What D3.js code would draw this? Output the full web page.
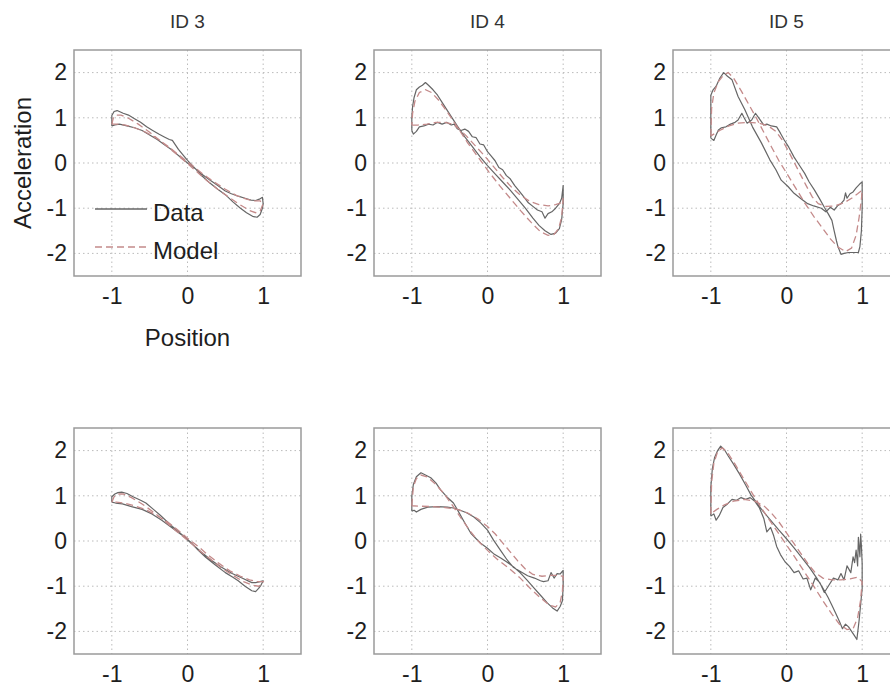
<!DOCTYPE html>
<html>
<head>
<meta charset="utf-8">
<script src="https://cdn.jsdelivr.net/npm/d3@7"></script>
<style>
  body { margin: 0; background: #fff; }
  svg { display: block; font-family: "Liberation Sans", Arial, sans-serif; }
</style>
</head>
<body>
<div id="chart"></div>
<script>
// Tick values shared by every panel
const xTicks = [-1, 0, 1];
const yTicks = [-2, -1, 0, 1, 2];
const titles = ["ID 3", "ID 4", "ID 5"];

// Top row: [position, acceleration] loops
const id3TopData = [[-1,0.82],[-1,1.05],[-0.97,1.14],[-0.93,1.16],[-0.85,1.1],[-0.78,1.06],[-0.7,0.98],[-0.62,0.9],[-0.54,0.8],[-0.46,0.72],[-0.38,0.64],[-0.3,0.57],[-0.24,0.52],[-0.2,0.5],[-0.16,0.4],[-0.12,0.3],[-0.06,0.18],[0,0.06],[0.1,-0.12],[0.2,-0.3],[0.3,-0.45],[0.4,-0.58],[0.5,-0.7],[0.6,-0.86],[0.7,-1.0],[0.78,-1.1],[0.86,-1.18],[0.92,-1.2],[0.96,-1.14],[0.99,-1.0],[1,-0.9],[0.99,-0.76],[0.95,-0.8],[0.9,-0.83],[0.84,-0.82],[0.76,-0.78],[0.68,-0.74],[0.58,-0.68],[0.5,-0.62],[0.4,-0.5],[0.3,-0.38],[0.2,-0.26],[0.1,-0.12],[0,0],[-0.1,0.14],[-0.2,0.28],[-0.3,0.4],[-0.4,0.52],[-0.5,0.62],[-0.6,0.72],[-0.7,0.78],[-0.8,0.82],[-0.9,0.86],[-0.96,0.84],[-1,0.82]];
const id3TopModel = [[-1,0.86],[-0.98,1.0],[-0.94,1.06],[-0.88,1.06],[-0.78,0.99],[-0.65,0.86],[-0.5,0.68],[-0.35,0.48],[-0.2,0.27],[-0.05,0.06],[0.1,-0.16],[0.25,-0.38],[0.4,-0.58],[0.55,-0.76],[0.7,-0.93],[0.82,-1.05],[0.9,-1.1],[0.96,-1.06],[1,-0.9],[0.96,-0.84],[0.88,-0.84],[0.78,-0.8],[0.65,-0.72],[0.5,-0.58],[0.35,-0.42],[0.2,-0.24],[0.05,-0.04],[-0.1,0.16],[-0.25,0.36],[-0.4,0.54],[-0.55,0.68],[-0.7,0.78],[-0.82,0.84],[-0.92,0.86],[-1,0.86]];

const id4TopData = [[-1,0.72],[-0.98,0.64],[-0.94,0.7],[-0.9,0.8],[-0.84,0.82],[-0.78,0.86],[-0.72,0.84],[-0.66,0.9],[-0.6,0.86],[-0.54,0.9],[-0.48,0.84],[-0.44,0.86],[-0.4,0.76],[-0.35,0.72],[-0.3,0.75],[-0.25,0.7],[-0.2,0.58],[-0.15,0.56],[-0.1,0.42],[-0.05,0.4],[0,0.25],[0.05,0.15],[0.1,0.05],[0.15,-0.1],[0.2,-0.15],[0.25,-0.28],[0.3,-0.35],[0.36,-0.5],[0.42,-0.62],[0.48,-0.75],[0.54,-0.88],[0.6,-0.96],[0.66,-1.04],[0.72,-1.08],[0.76,-1.22],[0.8,-1.12],[0.85,-1.08],[0.9,-1.0],[0.95,-0.9],[0.98,-0.78],[1,-0.5],[1,-0.9],[0.98,-1.25],[0.95,-1.45],[0.9,-1.55],[0.84,-1.58],[0.76,-1.5],[0.68,-1.38],[0.6,-1.22],[0.5,-1.0],[0.4,-0.8],[0.3,-0.6],[0.2,-0.42],[0.1,-0.24],[0,-0.06],[-0.1,0.14],[-0.2,0.36],[-0.3,0.58],[-0.4,0.82],[-0.5,1.08],[-0.6,1.34],[-0.66,1.5],[-0.72,1.62],[-0.78,1.72],[-0.82,1.78],[-0.86,1.72],[-0.9,1.68],[-0.94,1.62],[-0.97,1.45],[-0.99,1.25],[-1,1.0],[-1,0.72]];
const id4TopModel = [[-1,0.84],[-0.92,0.84],[-0.8,0.86],[-0.68,0.9],[-0.56,0.9],[-0.46,0.86],[-0.38,0.76],[-0.28,0.6],[-0.16,0.38],[-0.04,0.16],[0.08,-0.08],[0.2,-0.32],[0.32,-0.54],[0.44,-0.72],[0.56,-0.85],[0.68,-0.92],[0.8,-0.95],[0.9,-0.92],[0.97,-0.88],[1,-0.78],[0.98,-1.2],[0.94,-1.45],[0.88,-1.58],[0.8,-1.6],[0.7,-1.52],[0.58,-1.32],[0.44,-1.06],[0.3,-0.78],[0.16,-0.5],[0.02,-0.2],[-0.12,0.12],[-0.26,0.44],[-0.4,0.8],[-0.52,1.1],[-0.64,1.38],[-0.74,1.56],[-0.82,1.62],[-0.9,1.56],[-0.96,1.36],[-0.99,1.1],[-1,0.84]];

const id5TopData = [[-1,0.55],[-1,1.0],[-1,1.5],[-0.97,1.62],[-0.93,1.7],[-0.88,1.88],[-0.83,2.0],[-0.78,1.92],[-0.72,1.84],[-0.64,1.47],[-0.55,1.18],[-0.45,0.8],[-0.33,0.44],[-0.22,0.07],[-0.14,-0.15],[-0.07,-0.38],[0.02,-0.52],[0.1,-0.67],[0.2,-0.8],[0.28,-0.9],[0.36,-0.95],[0.46,-1.0],[0.52,-1.08],[0.58,-0.98],[0.63,-1.04],[0.68,-0.94],[0.72,-0.9],[0.76,-0.82],[0.78,-0.66],[0.8,-0.78],[0.84,-0.68],[0.88,-0.64],[0.92,-0.55],[0.97,-0.46],[1,-0.42],[1,-1.0],[0.99,-1.5],[0.97,-1.85],[0.95,-1.98],[0.88,-1.98],[0.82,-1.98],[0.76,-2.0],[0.72,-2.02],[0.68,-1.85],[0.66,-1.72],[0.63,-1.5],[0.6,-1.27],[0.55,-1.12],[0.5,-0.98],[0.44,-0.8],[0.37,-0.6],[0.3,-0.42],[0.24,-0.23],[0.17,-0.05],[0.1,0.13],[0.03,0.35],[-0.03,0.51],[-0.08,0.66],[-0.13,0.8],[-0.2,0.82],[-0.26,0.86],[-0.3,0.84],[-0.36,0.98],[-0.41,1.1],[-0.46,0.95],[-0.52,0.88],[-0.56,1.0],[-0.59,1.1],[-0.64,0.95],[-0.68,0.9],[-0.74,0.86],[-0.8,0.8],[-0.86,0.78],[-0.9,0.73],[-0.93,0.62],[-0.96,0.5],[-1,0.55]];
const id5TopModel = [[-1,0.6],[-0.99,1.2],[-0.96,1.55],[-0.9,1.8],[-0.83,1.95],[-0.77,2.0],[-0.7,1.88],[-0.6,1.6],[-0.5,1.3],[-0.4,1.0],[-0.3,0.68],[-0.2,0.36],[-0.1,0.05],[0,-0.22],[0.12,-0.55],[0.24,-0.88],[0.36,-1.18],[0.48,-1.45],[0.58,-1.68],[0.68,-1.86],[0.78,-1.96],[0.86,-1.88],[0.92,-1.6],[0.96,-1.2],[0.99,-0.8],[1,-0.6],[0.94,-0.68],[0.86,-0.78],[0.76,-0.88],[0.64,-0.95],[0.52,-0.96],[0.42,-0.9],[0.34,-0.75],[0.26,-0.5],[0.18,-0.24],[0.1,0.02],[0.02,0.28],[-0.06,0.52],[-0.14,0.7],[-0.24,0.82],[-0.36,0.88],[-0.5,0.9],[-0.64,0.88],[-0.76,0.82],[-0.86,0.74],[-0.94,0.66],[-1,0.6]];

// Bottom row
const id3BotData = [[-1,0.86],[-1,0.98],[-0.96,1.04],[-0.92,1.07],[-0.87,1.08],[-0.8,1.05],[-0.72,0.98],[-0.62,0.9],[-0.55,0.84],[-0.45,0.7],[-0.36,0.57],[-0.29,0.46],[-0.2,0.32],[-0.1,0.18],[-0.03,0.08],[0.05,-0.04],[0.14,-0.2],[0.24,-0.36],[0.36,-0.52],[0.5,-0.7],[0.6,-0.8],[0.67,-0.88],[0.76,-1.0],[0.85,-1.1],[0.9,-1.12],[0.94,-1.05],[0.97,-0.98],[1,-0.88],[0.96,-0.9],[0.9,-0.92],[0.85,-0.92],[0.72,-0.82],[0.59,-0.72],[0.45,-0.58],[0.32,-0.43],[0.18,-0.24],[0.05,-0.05],[-0.08,0.14],[-0.21,0.3],[-0.34,0.46],[-0.47,0.6],[-0.6,0.7],[-0.74,0.76],[-0.86,0.82],[-0.95,0.84],[-1,0.86]];
const id3BotModel = [[-1,0.86],[-0.97,0.98],[-0.92,1.04],[-0.85,1.04],[-0.74,0.96],[-0.6,0.82],[-0.45,0.64],[-0.3,0.44],[-0.15,0.22],[0,0.02],[0.15,-0.2],[0.3,-0.4],[0.45,-0.6],[0.6,-0.76],[0.74,-0.9],[0.86,-0.98],[0.94,-1.0],[0.98,-0.96],[1,-0.9],[0.92,-0.9],[0.82,-0.86],[0.7,-0.78],[0.56,-0.66],[0.42,-0.5],[0.28,-0.32],[0.14,-0.12],[0,0.06],[-0.14,0.26],[-0.28,0.44],[-0.42,0.58],[-0.56,0.7],[-0.7,0.78],[-0.84,0.84],[-0.94,0.86],[-1,0.86]];

const id4BotData = [[-1,0.66],[-1,1.0],[-0.98,1.25],[-0.94,1.42],[-0.88,1.51],[-0.82,1.46],[-0.75,1.4],[-0.68,1.28],[-0.62,1.13],[-0.54,0.98],[-0.45,0.84],[-0.38,0.64],[-0.32,0.46],[-0.22,0.17],[-0.15,0.05],[-0.09,-0.05],[0,-0.16],[0.08,-0.28],[0.18,-0.38],[0.26,-0.47],[0.35,-0.58],[0.43,-0.7],[0.52,-0.86],[0.61,-1.03],[0.7,-1.2],[0.79,-1.37],[0.86,-1.48],[0.92,-1.55],[0.96,-1.45],[0.99,-1.32],[1,-1.0],[1,-0.65],[0.96,-0.73],[0.92,-0.72],[0.88,-0.82],[0.84,-0.7],[0.8,-0.88],[0.74,-0.9],[0.7,-0.88],[0.62,-0.82],[0.53,-0.77],[0.44,-0.68],[0.34,-0.58],[0.26,-0.42],[0.17,-0.2],[0.08,0.02],[0,0.24],[-0.09,0.4],[-0.18,0.53],[-0.27,0.62],[-0.36,0.68],[-0.45,0.73],[-0.53,0.75],[-0.66,0.76],[-0.79,0.75],[-0.88,0.7],[-0.94,0.64],[-0.97,0.68],[-1,0.66]];
const id4BotModel = [[-1,0.78],[-0.98,1.2],[-0.94,1.38],[-0.88,1.46],[-0.8,1.42],[-0.7,1.28],[-0.58,1.06],[-0.46,0.78],[-0.34,0.48],[-0.22,0.2],[-0.1,-0.04],[0.02,-0.24],[0.14,-0.42],[0.28,-0.6],[0.42,-0.8],[0.56,-1.04],[0.7,-1.26],[0.82,-1.42],[0.9,-1.46],[0.96,-1.36],[0.99,-1.12],[1,-0.78],[0.94,-0.76],[0.84,-0.76],[0.72,-0.78],[0.6,-0.74],[0.5,-0.62],[0.4,-0.44],[0.3,-0.24],[0.2,-0.04],[0.1,0.16],[0,0.32],[-0.12,0.48],[-0.26,0.62],[-0.4,0.7],[-0.56,0.74],[-0.72,0.76],[-0.88,0.77],[-1,0.78]];

const id5BotData = [[-1,0.55],[-1,1.2],[-0.98,1.6],[-0.95,1.85],[-0.91,2.0],[-0.87,2.1],[-0.82,2.02],[-0.77,1.88],[-0.7,1.7],[-0.62,1.48],[-0.54,1.24],[-0.47,1.02],[-0.4,0.86],[-0.32,0.68],[-0.22,0.48],[-0.1,0.24],[0,0.05],[0.1,-0.15],[0.2,-0.36],[0.3,-0.58],[0.4,-0.82],[0.48,-1.04],[0.55,-1.25],[0.6,-1.42],[0.65,-1.6],[0.7,-1.78],[0.74,-1.94],[0.78,-1.84],[0.82,-1.9],[0.86,-2.0],[0.9,-2.1],[0.93,-2.18],[0.96,-1.75],[0.98,-1.4],[1,-1.05],[1,-0.5],[0.99,-0.1],[0.98,0.15],[0.97,-0.35],[0.95,0.08],[0.94,-0.55],[0.92,-0.2],[0.9,-0.48],[0.88,-0.35],[0.85,-0.7],[0.8,-0.55],[0.76,-0.86],[0.72,-0.72],[0.68,-0.86],[0.62,-0.82],[0.56,-0.98],[0.5,-1.14],[0.44,-0.92],[0.38,-0.82],[0.32,-1.08],[0.27,-0.82],[0.22,-0.84],[0.16,-0.66],[0.1,-0.7],[0.04,-0.56],[-0.02,-0.46],[-0.08,-0.3],[-0.13,-0.12],[-0.17,0.12],[-0.21,0.3],[-0.26,0.2],[-0.3,0.5],[-0.36,0.74],[-0.42,0.88],[-0.48,0.96],[-0.54,0.92],[-0.6,0.96],[-0.66,0.9],[-0.72,0.92],[-0.78,0.82],[-0.84,0.74],[-0.89,0.56],[-0.93,0.46],[-0.96,0.6],[-1,0.55]];
const id5BotModel = [[-1,0.6],[-0.99,1.3],[-0.96,1.72],[-0.91,1.98],[-0.85,2.06],[-0.78,1.96],[-0.68,1.7],[-0.56,1.36],[-0.44,1.02],[-0.32,0.7],[-0.2,0.4],[-0.06,0.06],[0.08,-0.28],[0.22,-0.64],[0.36,-1.0],[0.48,-1.32],[0.6,-1.62],[0.7,-1.84],[0.8,-1.96],[0.88,-1.94],[0.94,-1.7],[0.98,-1.3],[1,-0.9],[0.94,-0.8],[0.84,-0.84],[0.72,-0.86],[0.6,-0.86],[0.48,-0.82],[0.38,-0.7],[0.3,-0.54],[0.2,-0.3],[0.1,-0.06],[0,0.18],[-0.1,0.42],[-0.2,0.62],[-0.3,0.78],[-0.42,0.88],[-0.56,0.92],[-0.7,0.88],[-0.82,0.8],[-0.92,0.7],[-1,0.6]];

const panels = [
  { row: 0, col: 0, data: id3TopData, model: id3TopModel },
  { row: 0, col: 1, data: id4TopData, model: id4TopModel },
  { row: 0, col: 2, data: id5TopData, model: id5TopModel },
  { row: 1, col: 0, data: id3BotData, model: id3BotModel },
  { row: 1, col: 1, data: id4BotData, model: id4BotModel },
  { row: 1, col: 2, data: id5BotData, model: id5BotModel }
];

// Layout
const width = 890, height = 689;
const colLeft = [74, 374, 673];
const rowTop = [50, 428];
const pw = 227, ph = 226;

const dataColor = "#666666";
const modelColor = "#c48a8a";
const gridColor = "#bbbbbb";
const boxColor = "#9a9a9a";
const textColor = "#1e1e1e";

const svg = d3.select("#chart")
  .append("svg")
  .attr("width", width)
  .attr("height", height);

panels.forEach(p => {
  const g = svg.append("g")
    .attr("transform", `translate(${colLeft[p.col]},${rowTop[p.row]})`);

  const x = d3.scaleLinear().domain([-1.5, 1.5]).range([0, pw]);
  const y = d3.scaleLinear().domain([-2.5, 2.5]).range([ph, 0]);

  // dotted grid
  g.selectAll(".gx").data(xTicks).enter().append("line")
    .attr("x1", d => x(d)).attr("x2", d => x(d))
    .attr("y1", 0).attr("y2", ph)
    .attr("stroke", gridColor).attr("stroke-width", 1)
    .attr("stroke-dasharray", "1.5,3");
  g.selectAll(".gy").data(yTicks).enter().append("line")
    .attr("x1", 0).attr("x2", pw)
    .attr("y1", d => y(d)).attr("y2", d => y(d))
    .attr("stroke", gridColor).attr("stroke-width", 1)
    .attr("stroke-dasharray", "1.5,3");

  const line = d3.line().x(d => x(d[0])).y(d => y(d[1]));

  g.append("path")
    .attr("d", line(p.data))
    .attr("fill", "none")
    .attr("stroke", dataColor)
    .attr("stroke-width", 1.2)
    .attr("stroke-linejoin", "round");

  g.append("path")
    .attr("d", line(p.model))
    .attr("fill", "none")
    .attr("stroke", modelColor)
    .attr("stroke-width", 1.3)
    .attr("stroke-dasharray", "7,4");

  // box
  g.append("rect")
    .attr("x", 0).attr("y", 0)
    .attr("width", pw).attr("height", ph)
    .attr("fill", "none")
    .attr("stroke", boxColor)
    .attr("stroke-width", 1.5);

  // axes (labels only, the box stands in for the domain line)
  const xAxis = g.append("g")
    .attr("transform", `translate(0,${ph})`)
    .call(d3.axisBottom(x).tickValues(xTicks).tickSize(0).tickPadding(12).tickFormat(d => String(d)));
  const yAxis = g.append("g")
    .call(d3.axisLeft(y).tickValues(yTicks).tickSize(0).tickPadding(7).tickFormat(d => String(d)));

  [xAxis, yAxis].forEach(a => {
    a.select(".domain").remove();
    a.selectAll("text")
      .attr("fill", textColor)
      .style("font-size", "23px")
      .style("font-family", "'Liberation Sans', Arial, sans-serif");
  });

  if (p.row === 0) {
    g.append("text")
      .attr("x", pw / 2)
      .attr("y", -22)
      .attr("text-anchor", "middle")
      .attr("fill", "#333")
      .style("font-size", "19px")
      .text(titles[p.col]);
  }

  if (p.row === 0 && p.col === 0) {
    // axis titles
    g.append("text")
      .attr("transform", `translate(-43,${ph / 2}) rotate(-90)`)
      .attr("text-anchor", "middle")
      .attr("fill", textColor)
      .style("font-size", "24px")
      .text("Acceleration");
    g.append("text")
      .attr("x", x(0))
      .attr("y", ph + 70)
      .attr("text-anchor", "middle")
      .attr("fill", textColor)
      .style("font-size", "24px")
      .text("Position");

    // legend
    const legend = [
      { label: "Data", color: dataColor, dash: null, ly: 209 },
      { label: "Model", color: modelColor, dash: "7,4", ly: 247 }
    ];
    legend.forEach(l => {
      const yy = l.ly - rowTop[0];
      g.append("line")
        .attr("x1", 21).attr("x2", 73)
        .attr("y1", yy).attr("y2", yy)
        .attr("stroke", l.color)
        .attr("stroke-width", 1.3)
        .attr("stroke-dasharray", l.dash);
      g.append("text")
        .attr("x", 79)
        .attr("y", yy + 12)
        .attr("fill", textColor)
        .style("font-size", "24px")
        .text(l.label);
    });
  }
});
</script>
</body>
</html>
